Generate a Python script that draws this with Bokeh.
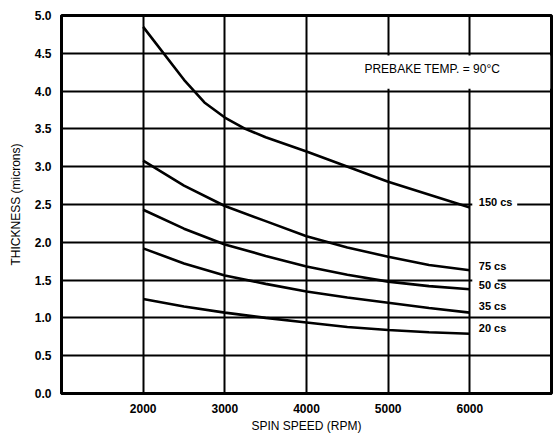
from bokeh.plotting import figure
from bokeh.models import Range1d, FixedTicker, PrintfTickFormatter, Label
from bokeh.embed import file_html
from bokeh.resources import INLINE

# ---- data ----
x_ticks = [2000, 3000, 4000, 5000, 6000]
y_ticks = [0.0, 0.5, 1.0, 1.5, 2.0, 2.5, 3.0, 3.5, 4.0, 4.5, 5.0]

rpm_150 = [2000, 2500, 2750, 3000, 3250, 3500, 4000, 5000, 6000]
cs_150 = [4.85, 4.15, 3.85, 3.65, 3.50, 3.39, 3.20, 2.80, 2.46]

rpm = [2000, 2500, 3000, 3500, 4000, 4500, 5000, 5500, 6000]
cs_75 = [3.08, 2.75, 2.48, 2.28, 2.08, 1.93, 1.81, 1.70, 1.63]
cs_50 = [2.43, 2.18, 1.97, 1.82, 1.68, 1.57, 1.48, 1.42, 1.38]
cs_35 = [1.92, 1.72, 1.56, 1.45, 1.35, 1.27, 1.20, 1.13, 1.07]
cs_20 = [1.25, 1.15, 1.07, 1.00, 0.94, 0.88, 0.84, 0.81, 0.79]

series_labels = ["150 cs", "75 cs", "50 cs", "35 cs", "20 cs"]
label_y = [2.53, 1.69, 1.43, 1.16, 0.86]
note_text = "PREBAKE TEMP. = 90\u00b0C"

FONT = "Liberation Sans"

p = figure(width=553, height=439, output_backend="svg", toolbar_location=None,
           x_range=Range1d(1000, 7000), y_range=Range1d(0, 5))
p.min_border_left = 61
p.min_border_right = 2
p.min_border_top = 15
p.min_border_bottom = 46
p.background_fill_color = "white"
p.border_fill_color = "white"
p.outline_line_color = "black"
p.outline_line_width = 3

# axes
p.xaxis.ticker = FixedTicker(ticks=x_ticks)
p.yaxis.ticker = FixedTicker(ticks=y_ticks)
p.yaxis.formatter = PrintfTickFormatter(format="%.1f")
for ax in (p.xaxis[0], p.yaxis[0]):
    ax.axis_line_color = "black"
    ax.axis_line_width = 3
    ax.major_tick_out = 0
    ax.major_tick_in = 0
    ax.minor_tick_out = 0
    ax.minor_tick_in = 0
    ax.major_label_text_font = FONT
    ax.major_label_text_font_style = "bold"
    ax.major_label_text_font_size = "12px"
    ax.major_label_text_color = "black"
    ax.axis_label_text_font = FONT
    ax.axis_label_text_font_style = "normal"
    ax.axis_label_text_font_size = "12px"
    ax.axis_label_text_color = "black"
p.xaxis.axis_label = "SPIN SPEED (RPM)"
p.yaxis.axis_label = "THICKNESS (microns)"
p.xaxis.major_label_standoff = 10
p.xaxis.axis_label_standoff = 3
p.yaxis.major_label_standoff = 10
p.yaxis.axis_label_standoff = 9

# grid
p.xgrid.ticker = FixedTicker(ticks=x_ticks)
p.ygrid.ticker = FixedTicker(ticks=y_ticks)
for g in (p.xgrid[0], p.ygrid[0]):
    g.grid_line_color = "black"
    g.grid_line_width = 2
    g.grid_line_alpha = 1.0

# white box behind the prebake note
p.quad(left=4100, right=6985, bottom=4.03, top=4.47, fill_color="white", line_color=None)
p.add_layout(Label(x=5540, y=4.29, text=note_text, text_align="center", text_baseline="middle",
                   text_font=FONT, text_font_size="12px", text_color="black"))

# white patches behind labels that sit on grid lines
p.quad(left=[6030, 6030], right=[6580, 6340], bottom=[2.43, 1.38], top=[2.63, 1.53],
       fill_color="white", line_color=None)

# curves
for xs, ys in [(rpm_150, cs_150), (rpm, cs_75), (rpm, cs_50), (rpm, cs_35), (rpm, cs_20)]:
    p.line(xs, ys, line_color="black", line_width=2.6)

# curve labels
for txt, yy in zip(series_labels, label_y):
    p.add_layout(Label(x=6110, y=yy, text=txt, text_align="left", text_baseline="middle",
                       text_font=FONT, text_font_style="bold", text_font_size="11px",
                       text_color="black"))

open("out.html", "w").write(file_html(p, INLINE))
